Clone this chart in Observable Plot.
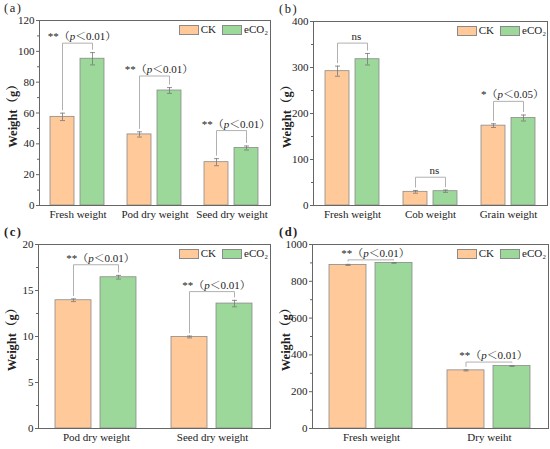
<!DOCTYPE html>
<html><head><meta charset="utf-8">
<script src="https://cdn.jsdelivr.net/npm/d3@7"></script>
<script src="https://cdn.jsdelivr.net/npm/@observablehq/plot@0.6"></script>
<style>
body{margin:0;background:#fff;}
#fig{position:relative;width:550px;height:449px;font-family:"Liberation Serif","Noto Serif CJK SC",serif;color:#222;}
.panel{position:absolute;}
.tag{position:absolute;font-size:12.5px;line-height:1;letter-spacing:1.5px;}
.legend{position:absolute;display:flex;align-items:center;font-size:11px;line-height:1;}
.sw{width:20px;height:10px;border:0.8px solid #8a8a8a;box-sizing:border-box;margin-right:2px;}
.lt{margin-right:6px;}
</style></head><body><div id="fig"></div>
<script>
const treatments = ["CK", "eCO₂"];
const colors = ["#FFC999", "#9DD89B"];

// Panel (a)
const aGroups = ["Fresh weight", "Pod dry weight", "Seed dry weight"];
const aCK = [57.5, 46.1, 28.1];
const aCKerr = [2.4, 1.7, 2.3];
const aE = [95.2, 74.6, 37.3];
const aEerr = [4.0, 1.9, 1.3];
const aLevel = [105.3, 84, 48.6];
const aSig = ["**（p＜0.01）", "**（p＜0.01）", "**（p＜0.01）"];
const aTicks = [0, 20, 40, 60, 80, 100, 120];
const aMinor = [10, 30, 50, 70, 90, 110];

// Panel (b)
const bGroups = ["Fresh weight", "Cob weight", "Grain weight"];
const bCK = [292, 29.7, 173.6];
const bCKerr = [11, 3, 4];
const bE = [318, 31.1, 190.2];
const bEerr = [12.5, 2.5, 6.5];
const bLevel = [353, 61.5, 226.4];
const bSig = ["ns", "ns", "*（p＜0.05）"];
const bTicks = [0, 100, 200, 300, 400];
const bMinor = [50, 150, 250, 350];

// Panel (c)
const cGroups = ["Pod dry weight", "Seed dry weight"];
const cCK = [13.94, 9.95];
const cCKerr = [0.15, 0.1];
const cE = [16.44, 13.58];
const cEerr = [0.2, 0.35];
const cLevel = [17.8, 14.88];
const cSig = ["**（p＜0.01）", "**（p＜0.01）"];
const cTicks = [0, 5, 10, 15, 20];
const cMinor = [2.5, 7.5, 12.5, 17.5];

// Panel (d)
const dGroups = ["Fresh weight", "Dry weiht"];
const dCK = [889, 316];
const dCKerr = [3, 3];
const dE = [900, 339.5];
const dEerr = [2, 2];
const dLevel = [916.5, 361];
const dSig = ["**（p＜0.01）", "**（p＜0.01）"];
const dTicks = [0, 200, 400, 600, 800, 1000];
const dMinor = [100, 300, 500, 700, 900];

const cap = {draw(ctx, size) { const w = Math.sqrt(size / Math.PI); ctx.moveTo(-w, 0); ctx.lineTo(w, 0); }};
const FONT = '"Liberation Serif","Noto Serif CJK SC",serif';
const fig = document.getElementById("fig");

function panel(cfg) {
  const {tag, bold, groups, ck, ckErr, e, eErr, level, sig, ticks, minor, left, top, h, ml, mr, mt, mb} = cfg;
  const ymax = ticks[ticks.length - 1];
  const gap = ymax * 0.018;
  const rows = groups.flatMap((g, i) => [
    {group: g, t: treatments[0], v: ck[i], e: ckErr[i]},
    {group: g, t: treatments[1], v: e[i], e: eErr[i]}
  ]);
  const br = groups.flatMap((g, i) => [
    {group: g, t: treatments[0], y: Math.min(level[i], ck[i] + ckErr[i] + gap)},
    {group: g, t: treatments[0], y: level[i]},
    {group: g, t: treatments[1], y: level[i]},
    {group: g, t: treatments[1], y: Math.min(level[i], e[i] + eErr[i] + gap)}
  ]);
  const lab = groups.map((g, i) => ({group: g, y: level[i], s: sig[i]}));
  const svg = Plot.plot({
    width: 275, height: h, marginLeft: ml, marginRight: mr, marginTop: mt, marginBottom: mb,
    style: {fontFamily: FONT, fontSize: "11px", color: "#222", background: "white"},
    fx: {domain: groups, padding: 0, label: null, axis: "bottom", tickSize: 0, tickPadding: 5},
    x: {domain: treatments, paddingInner: 0.19, paddingOuter: 0.37, axis: null},
    y: {domain: [0, ymax]},
    color: {domain: treatments, range: colors},
    marks: [
      Plot.barY(rows, {fx: "group", x: "t", y: "v", fill: "t", stroke: "#8a8a8a", strokeWidth: 0.8}),
      Plot.ruleX(rows, {fx: "group", x: "t", y1: d => d.v - d.e, y2: d => d.v + d.e, stroke: "#777", strokeWidth: 0.8}),
      Plot.dot(rows, {fx: "group", x: "t", y: d => d.v + d.e, symbol: cap, r: 2.5, stroke: "#777", strokeWidth: 0.8, fill: "none"}),
      Plot.dot(rows, {fx: "group", x: "t", y: d => d.v - d.e, symbol: cap, r: 2.5, stroke: "#777", strokeWidth: 0.8, fill: "none"}),
      Plot.line(br, {fx: "group", x: "t", y: "y", z: "group", stroke: "#a8a8a8", strokeWidth: 0.9}),
      Plot.text(lab, {fx: "group", y: "y", text: "s", frameAnchor: "middle", lineAnchor: "bottom", dy: -3, dx: 4, fontSize: 11, fill: "#222"}),
      Plot.axisY(ticks, {tickSize: 3, tickPadding: 2, stroke: "#666", tickFormat: d => String(d), label: "Weight（g）", labelAnchor: "center", labelArrow: "none", labelOffset: 31}),
      Plot.axisY(minor, {tickSize: 2, stroke: "#666", tickFormat: () => "", label: null}),
      Plot.frame({facet: "super", stroke: "#666", strokeWidth: 1})
    ]
  });
  svg.querySelectorAll("text").forEach(t => {
    const s = t.textContent;
    const k = s.indexOf("p＜");
    if (k >= 0 && t.children.length === 0) {
      t.textContent = "";
      t.appendChild(document.createTextNode(s.slice(0, k)));
      const ts = document.createElementNS("http://www.w3.org/2000/svg", "tspan");
      ts.setAttribute("font-style", "italic");
      ts.textContent = "p";
      t.appendChild(ts);
      t.appendChild(document.createTextNode(s.slice(k + 1)));
    }
  });
  const yl = svg.querySelector('[aria-label="y-axis label"]');
  if (yl) { yl.setAttribute("font-weight", "bold"); yl.setAttribute("font-size", "12.5px"); }
  const div = document.createElement("div");
  div.className = "panel";
  div.style.left = left + "px"; div.style.top = top + "px";
  div.style.width = "275px"; div.style.height = h + "px";
  div.appendChild(svg);
  const tg = document.createElement("div");
  tg.className = "tag"; tg.textContent = tag;
  tg.style.left = "4px"; tg.style.top = Math.max(1, mt - 18) + "px";
  if (bold) tg.style.fontWeight = "bold";
  div.appendChild(tg);
  const lg = document.createElement("div");
  lg.className = "legend";
  lg.style.right = (mr + 2) + "px"; lg.style.top = (mt + 4) + "px";
  treatments.forEach((tr, i) => {
    const sw = document.createElement("span"); sw.className = "sw"; sw.style.background = colors[i];
    const tx = document.createElement("span"); tx.className = "lt"; tx.textContent = tr;
    if (i === treatments.length - 1) tx.style.marginRight = "0";
    lg.appendChild(sw); lg.appendChild(tx);
  });
  div.appendChild(lg);
  fig.appendChild(div);
}

panel({tag: "(a)", bold: false, groups: aGroups, ck: aCK, ckErr: aCKerr, e: aE, eErr: aEerr, level: aLevel, sig: aSig, ticks: aTicks, minor: aMinor, left: 0, top: 0, h: 225, ml: 38, mr: 5, mt: 20, mb: 20});
panel({tag: "(b)", bold: false, groups: bGroups, ck: bCK, ckErr: bCKerr, e: bE, eErr: bEerr, level: bLevel, sig: bSig, ticks: bTicks, minor: bMinor, left: 275, top: 0, h: 225, ml: 37, mr: 2, mt: 21, mb: 20});
panel({tag: "(c)", bold: true, groups: cGroups, ck: cCK, ckErr: cCKerr, e: cE, eErr: cEerr, level: cLevel, sig: cSig, ticks: cTicks, minor: cMinor, left: 0, top: 225, h: 224, ml: 38, mr: 5, mt: 19, mb: 21});
panel({tag: "(d)", bold: true, groups: dGroups, ck: dCK, ckErr: dCKerr, e: dE, eErr: dEerr, level: dLevel, sig: dSig, ticks: dTicks, minor: dMinor, left: 275, top: 225, h: 224, ml: 37, mr: 2, mt: 19, mb: 21});
</script></body></html>
